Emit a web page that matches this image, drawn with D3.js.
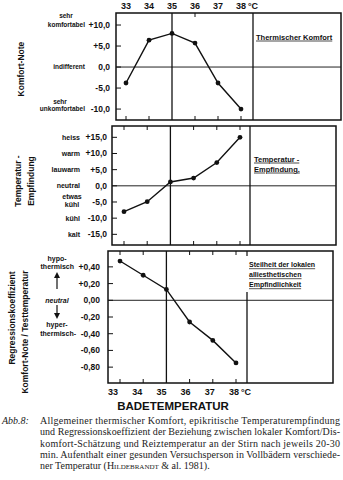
<!DOCTYPE html>
<html><head><meta charset="utf-8">
<script src="https://cdn.jsdelivr.net/npm/d3@7"></script>
<style>
html,body{margin:0;padding:0;background:#fff;}
svg{display:block;}
.lab{font-family:"Liberation Sans",Arial,sans-serif;font-weight:bold;fill:#111;}
.cap{font-family:"Liberation Serif","Times New Roman",serif;fill:#222;font-size:10px;}
</style></head>
<body>
<svg id="c" width="343" height="480"></svg>
<script>
// ---- data ----
const temps = [33, 34, 35, 36, 37, 38];
const xTickLabels = ["33", "34", "35", "36", "37", "38"];
const komfort = [-3.8, 6.4, 8.0, 5.7, -3.8, -10.0];
const tempEmpfindung = [-8.0, -4.9, 1.2, 2.4, 7.2, 15.0];
const regression = [0.47, 0.30, 0.13, -0.26, -0.48, -0.75];

const komfortTicks = [10, 5, 0, -5, -10];
const komfortTickLabels = ["+10,0", "+5,0", "0,0", "-5,0", "-10,0"];
const empfTicks = [15, 10, 5, 0, -5, -10, -15];
const empfTickLabels = ["+15,0", "+10,0", "+5,0", "0,0", "-5,0", "-10,0", "-15,0"];
const regTicks = [0.4, 0.2, 0, -0.2, -0.4, -0.6, -0.8];
const regTickLabels = ["+0,40", "+0,20", "0,00", "-0,20", "-0,40", "-0,60", "-0,80"];

const svg = d3.select("#c");

// panel layout (scan is slightly skewed, so each panel has its own frame)
const panels = [
  {vals: komfort, ticks: komfortTicks, tlabels: komfortTickLabels,
   left:116, right:341, top:13, bottom:120, x0:126, x1:241, sep:253, sepTop:13,
   yDomain:[-12.6, 12.86], numRight:110},
  {vals: tempEmpfindung, ticks: empfTicks, tlabels: empfTickLabels,
   left:112, right:336, top:126, bottom:245, x0:124, x1:240, sep:250, sepTop:126,
   yDomain:[-18.3, 18.5], numRight:107},
  {vals: regression, ticks: regTicks, tlabels: regTickLabels,
   left:108, right:333, top:251, bottom:383, x0:120, x1:236, sep:247, sepTop:292,
   yDomain:[-0.99, 0.59], numRight:100}
];

panels.forEach((p, i) => {
  const x = d3.scaleLinear().domain([33, 38]).range([p.x0, p.x1]);
  const y = d3.scaleLinear().domain(p.yDomain).range([p.bottom, p.top]);
  p.x = x; p.y = y;
  const g = svg.append("g");
  g.append("rect").attr("x", p.left).attr("y", p.top)
    .attr("width", p.right - p.left).attr("height", p.bottom - p.top)
    .attr("fill", "none").attr("stroke", "#111").attr("stroke-width", 1.5);
  g.append("line").attr("x1", p.left).attr("x2", p.right)
    .attr("y1", y(0)).attr("y2", y(0)).attr("stroke", "#222").attr("stroke-width", 1);
  g.append("line").attr("x1", x(35)).attr("x2", x(35))
    .attr("y1", p.top).attr("y2", p.bottom).attr("stroke", "#111").attr("stroke-width", 1.3);
  g.append("line").attr("x1", p.sep).attr("x2", p.sep)
    .attr("y1", p.sepTop).attr("y2", p.bottom).attr("stroke", "#111").attr("stroke-width", 1.3);
  if (p.sepTop > p.top) {
    g.append("line").attr("x1", p.sep).attr("x2", p.sep)
      .attr("y1", p.top).attr("y2", p.top + 5).attr("stroke", "#111").attr("stroke-width", 1.2);
  }
  temps.forEach(t => {
    if (t === 35) return;
    g.append("line").attr("x1", x(t)).attr("x2", x(t))
      .attr("y1", p.bottom).attr("y2", p.bottom - 4).attr("stroke", "#111").attr("stroke-width", 1);
    if (i > 0 || t === 36) {
      g.append("line").attr("x1", x(t)).attr("x2", x(t))
        .attr("y1", p.top).attr("y2", p.top + 4).attr("stroke", "#111").attr("stroke-width", 1);
    }
  });
  p.ticks.forEach((v, k) => {
    g.append("line").attr("x1", p.left).attr("x2", p.left + 5)
      .attr("y1", y(v)).attr("y2", y(v)).attr("stroke", "#111").attr("stroke-width", 1);
    g.append("text").attr("class", "lab").attr("x", p.numRight).attr("y", y(v))
      .attr("dy", "0.35em").attr("text-anchor", "end").attr("font-size", 8.5)
      .text(p.tlabels[k]);
  });
  const line = d3.line().x((d, k) => x(temps[k])).y(d => y(d));
  g.append("path").datum(p.vals).attr("d", line)
    .attr("fill", "none").attr("stroke", "#111").attr("stroke-width", 1.4);
  g.selectAll("circle.pt").data(p.vals).join("circle")
    .attr("cx", (d, k) => x(temps[k])).attr("cy", d => y(d)).attr("r", 2.4).attr("fill", "#111");
});

function xLabels(p, yy) {
  temps.forEach((t, k) => {
    svg.append("text").attr("class", "lab").attr("x", p.x(t)).attr("y", yy)
      .attr("text-anchor", "middle").attr("font-size", 9).text(xTickLabels[k]);
  });
  svg.append("text").attr("class", "lab").attr("x", p.x(38) + 7).attr("y", yy)
    .attr("font-size", 9).text("°C");
}
xLabels(panels[0], 9);
xLabels({x: d3.scaleLinear().domain([33, 38]).range([113, 234])}, 395);

function txt(xx, yy, s, size, anchor, extra) {
  const t = svg.append("text").attr("class", "lab").attr("x", xx).attr("y", yy)
    .attr("dy", "0.35em").attr("font-size", size).attr("text-anchor", anchor || "start").text(s);
  if (extra) extra(t);
  return t;
}
const ul = t => t.attr("text-decoration", "underline").attr("font-weight", "normal");

const p1 = panels[0], p2 = panels[1], p3 = panels[2];
txt(66, p1.y(10) - 9, "sehr", 6.5, "middle");
txt(85, p1.y(10), "komfortabel", 6.5, "end");
txt(85, p1.y(0), "indifferent", 6.5, "end");
txt(60, p1.y(-10) - 7, "sehr", 6.5, "middle");
txt(85, p1.y(-10), "unkomfortabel", 6.5, "end");
txt(21, p1.y(0) + 2, "Komfort-Note", 8.5, "middle", t => t.attr("transform", `rotate(-90,21,${p1.y(0) + 2})`));
txt(256, 37, "Thermischer Komfort", 7.5, "start", ul);

txt(80, p2.y(15), "heiss", 7, "end");
txt(80, p2.y(10), "warm", 7, "end");
txt(80, p2.y(5), "lauwarm", 7, "end");
txt(80, p2.y(0), "neutral", 7, "end");
txt(72, p2.y(-5) - 5, "etwas", 7, "middle");
txt(72, p2.y(-5) + 3, "kühl", 7, "middle");
txt(80, p2.y(-10), "kühl", 7, "end");
txt(80, p2.y(-15), "kalt", 7, "end");
txt(18, 181, "Temperatur -", 8.5, "middle", t => t.attr("transform", "rotate(-90,18,181)"));
txt(31, 181, "Empfindung", 8.5, "middle", t => t.attr("transform", "rotate(-90,31,181)"));
txt(254, 159, "Temperatur -", 7.5, "start", ul);
txt(254, 169, "Empfindung.", 7.5, "start", ul);

txt(57, 259, "hypo-", 7, "middle");
txt(74, p3.y(0.4), "thermisch", 7, "end");
txt(57, p3.y(0), "neutral", 7, "middle", t => t.attr("font-style", "italic"));
txt(57, 325, "hyper-", 7, "middle");
txt(76, p3.y(-0.4), "thermisch-", 7, "end");
svg.append("line").attr("x1", 57).attr("x2", 57).attr("y1", 289).attr("y2", 275).attr("stroke", "#111").attr("stroke-width", 1.2);
svg.append("path").attr("d", "M54,278 L57,272 L60,278 Z").attr("fill", "#111");
svg.append("line").attr("x1", 57).attr("x2", 57).attr("y1", 305).attr("y2", 316).attr("stroke", "#111").attr("stroke-width", 1.2);
svg.append("path").attr("d", "M54,313 L57,319 L60,313 Z").attr("fill", "#111");
txt(12, 318, "Regressionskoeffizient", 8.5, "middle", t => t.attr("transform", "rotate(-90,12,318)"));
txt(25, 332, "Komfort-Note / Testtemperatur", 8.5, "middle", t => t.attr("transform", "rotate(-90,25,332)"));
txt(249, 265, "Steilheit der lokalen", 7, "start", ul);
txt(249, 275, "alliesthetischen", 7, "start", ul);
txt(249, 285, "Empfindlichkeit", 7, "start", ul);

svg.append("text").attr("class", "lab").attr("x", 173).attr("y", 410)
  .attr("text-anchor", "middle").attr("font-size", 11.5).attr("font-weight", "bold")
  .text("BADETEMPERATUR");

svg.append("text").attr("class", "cap").attr("x", 2).attr("y", 424)
  .attr("font-style", "italic").text("Abb.8:");
const capLines = [
  "Allgemeiner thermischer Komfort, epikritische Temperaturempfindung",
  "und Regressionskoeffizient der Beziehung zwischen lokaler Komfort/Dis-",
  "komfort-Schätzung und Reiztemperatur an der Stirn nach jeweils 20-30",
  "min. Aufenthalt einer gesunden Versuchsperson in Vollbädern verschiede-"
];
capLines.forEach((s, k) => {
  svg.append("text").attr("class", "cap").attr("x", 40).attr("y", 424 + k * 11.3)
    .attr("textLength", 300).attr("lengthAdjust", "spacing").text(s);
});
const last = svg.append("text").attr("class", "cap").attr("x", 40).attr("y", 424 + 4 * 11.3);
last.append("tspan").text("ner Temperatur (");
last.append("tspan").attr("font-variant", "small-caps").text("Hildebrandt");
last.append("tspan").text(" & al. 1981).");
</script>
</body></html>
